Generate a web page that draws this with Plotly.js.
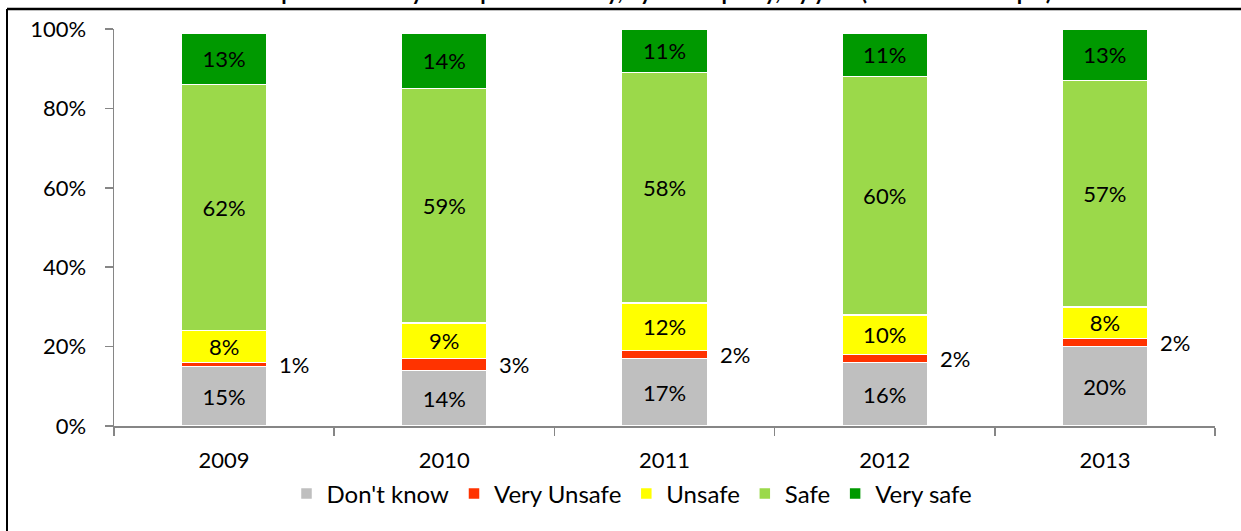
<!DOCTYPE html>
<html>
<head>
<meta charset="utf-8">
<script src="https://cdn.plot.ly/plotly-3.0.1.min.js"></script>
<style>
  html, body { margin: 0; padding: 0; background: #fff; overflow: hidden; }
  #chart { width: 1241px; height: 531px; }
</style>
</head>
<body>
<div id="chart"></div>
<script>
// ---- Data (percent of respondents) ----
const years = ['2009', '2010', '2011', '2012', '2013'];
const dontKnow   = [15, 14, 17, 16, 20];
const veryUnsafe = [1, 3, 2, 2, 2];
const unsafe     = [8, 9, 12, 10, 8];
const safe       = [62, 59, 58, 60, 57];
const verySafe   = [13, 14, 11, 11, 13];
const seriesNames = ["Don't know", 'Very Unsafe', 'Unsafe', 'Safe', 'Very safe'];
const yTicks = [0, 20, 40, 60, 80, 100];
const titleText = 'Perception of safety in respondents\u2019 city, by municipality, by year (Base: Total sample)';

// ---- Styles ----
const colors = ['#BFBFBF', '#FF3300', '#FFFF00', '#9BD94A', '#009900'];
const FONT = 'Lato, "Open Sans", sans-serif';
const W = 1241, H = 531;
const M = { l: 114, r: 26, t: 29, b: 105 };

const allSeries = [dontKnow, veryUnsafe, unsafe, safe, verySafe];
const traces = allSeries.map((vals, i) => ({
  type: 'bar',
  name: seriesNames[i],
  x: years,
  y: vals,
  marker: { color: colors[i], line: { color: '#FFFFFF', width: 1.5 } },
  text: vals.map(v => v + '%'),
  texttemplate: i === 1 ? '' : '%{text}',
  textposition: i === 1 ? 'none' : 'inside',
  insidetextanchor: 'middle',
  constraintext: 'none',
  insidetextfont: { family: FONT, size: 22, color: '#000000' },
  hoverinfo: 'name+y'
}));

// Very Unsafe labels to the right of each bar, at the middle of that segment
const annotations = years.map((yr, k) => ({
  x: k,               // category index
  y: dontKnow[k] + veryUnsafe[k] / 2,
  xref: 'x', yref: 'y',
  text: veryUnsafe[k] + '%',
  showarrow: false,
  xanchor: 'left',
  yanchor: 'middle',
  xshift: 53,
  font: { family: FONT, size: 22, color: '#000000' }
}));

// outer frame (black border, top and left visible)
const plotW = W - M.l - M.r, plotH = H - M.t - M.b;
const fx = (7 - M.l) / plotW, fy = 1 + (M.t - 9) / plotH;
const shapes = [
  { type: 'line', xref: 'paper', yref: 'paper', x0: fx, x1: 1.2, y0: fy, y1: fy,
    line: { color: '#000000', width: 2.5 } },
  { type: 'line', xref: 'paper', yref: 'paper', x0: fx, x1: fx, y0: fy, y1: -0.5,
    line: { color: '#000000', width: 2 } }
];

const layout = {
  width: W, height: H,
  margin: M,
  paper_bgcolor: '#FFFFFF',
  plot_bgcolor: '#FFFFFF',
  barmode: 'stack',
  bargap: 0.61,
  showlegend: true,
  font: { family: FONT, size: 22, color: '#000000' },
  title: {
    text: '<b>' + titleText + '</b>',
    font: { family: FONT, size: 22, color: '#000000' },
    xref: 'container', yref: 'container',
    x: 0.515, xanchor: 'center',
    y: 1, yanchor: 'bottom'
  },
  xaxis: {
    type: 'category',
    range: [-0.5, years.length - 0.5],
    autorange: false,
    showline: true, linecolor: '#868686', linewidth: 1.5,
    ticks: 'outside', tickson: 'boundaries', ticklen: 8, tickcolor: '#868686', tickwidth: 1.5,
    showgrid: false, zeroline: false,
    ticklabelstandoff: 14,
    tickangle: 0,
    tickfont: { family: FONT, size: 22, color: '#000000' },
    fixedrange: true
  },
  yaxis: {
    range: [0, 100],
    autorange: false,
    tickvals: yTicks,
    ticktext: yTicks.map(v => v + '%'),
    showline: true, linecolor: '#868686', linewidth: 1.5,
    ticks: 'outside', ticklen: 8, tickcolor: '#868686', tickwidth: 1.5,
    showgrid: false, zeroline: false,
    ticklabelstandoff: 14,
    tickfont: { family: FONT, size: 22, color: '#000000' },
    fixedrange: true
  },
  legend: {
    orientation: 'h',
    x: (632 - M.l) / plotW, xanchor: 'center',
    y: (H - M.b - 494) / plotH, yanchor: 'middle',
    font: { family: FONT, size: 24, color: '#000000' },
    itemwidth: 30,
    traceorder: 'normal',
    bgcolor: 'rgba(0,0,0,0)'
  },
  annotations: annotations,
  shapes: shapes
};

Plotly.newPlot('chart', traces, layout, { displayModeBar: false, staticPlot: true });
</script>
</body>
</html>
